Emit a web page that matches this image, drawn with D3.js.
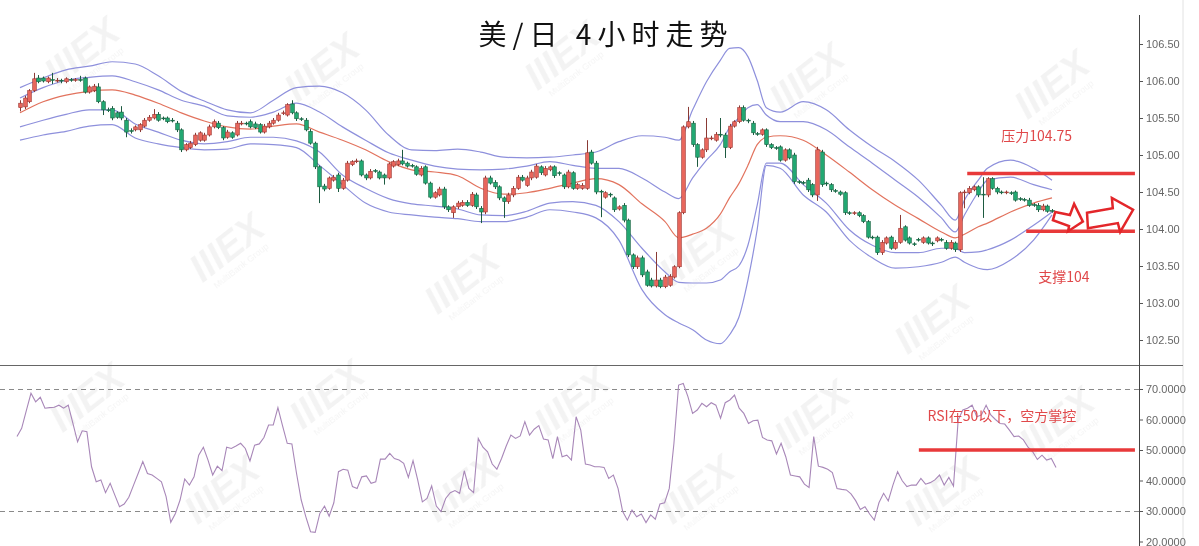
<!DOCTYPE html>
<html><head><meta charset="utf-8">
<script src="https://cdn.jsdelivr.net/npm/d3@7"></script>
<style>body{margin:0;background:#fff;}svg{display:block}</style>
</head><body>
<svg id="c" width="1199" height="546"></svg>
<script>
// ---------- DATA ----------
const opens=[105.64,105.65,105.72,105.87,106.04,106.04,105.99,106.02,106.00,106.01,
105.99,106.02,106.01,106.02,106.04,105.85,105.87,105.92,105.72,105.61,
105.63,105.57,105.58,105.47,105.33,105.34,105.34,105.39,105.47,105.50,
105.55,105.50,105.50,105.47,105.43,105.34,105.07,105.10,105.14,105.20,
105.20,105.27,105.38,105.43,105.37,105.24,105.30,105.27,105.42,105.43,
105.45,105.42,105.41,105.31,105.38,105.43,105.47,105.56,105.54,105.69,
105.57,105.49,105.47,105.32,105.16,104.84,104.58,104.55,104.66,104.73,
104.55,104.66,104.87,104.91,104.92,104.73,104.69,104.79,104.77,104.73,
104.69,104.85,104.87,104.92,104.89,104.86,104.84,104.73,104.84,104.62,
104.43,104.46,104.54,104.30,104.22,104.30,104.32,104.36,104.32,104.46,
104.28,104.23,104.69,104.63,104.57,104.42,104.37,104.46,104.55,104.70,
104.59,104.69,104.70,104.84,104.73,104.80,104.84,104.76,104.73,104.57,
104.76,104.55,104.55,104.55,105.04,104.89,104.51,104.43,104.47,104.42,
104.27,104.32,104.12,103.65,103.49,103.61,103.42,103.31,103.23,103.31,
103.22,103.24,103.35,103.49,104.22,105.38,105.43,105.14,104.97,105.07,
105.22,105.20,105.28,105.27,105.10,105.39,105.45,105.64,105.47,105.43,
105.29,105.28,105.34,105.14,105.10,105.11,104.93,105.07,105.00,104.64,
104.63,104.66,104.60,104.46,105.04,104.62,104.60,104.52,104.50,104.49,
104.22,104.21,104.22,104.18,104.10,103.89,103.89,103.68,103.81,103.89,
103.74,103.82,104.03,103.88,103.80,103.86,103.82,103.88,103.81,103.84,
103.86,103.82,103.74,103.81,103.72,104.49,104.49,104.53,104.57,104.47,
104.46,104.68,104.55,104.50,104.49,104.49,104.50,104.41,104.40,104.39,
104.33,104.32,104.26,104.31,104.25];
const highs=[105.74,105.80,105.89,106.11,106.08,106.06,106.06,106.11,106.04,106.03,
106.05,106.04,106.04,106.07,106.06,105.94,105.96,105.97,105.74,105.64,
105.66,105.59,105.66,105.50,105.36,105.40,105.43,105.50,105.54,105.62,
105.58,105.52,105.52,105.50,105.46,105.36,105.16,105.19,105.30,105.32,
105.30,105.41,105.48,105.46,105.39,105.34,105.32,105.46,105.46,105.45,
105.48,105.45,105.43,105.42,105.46,105.50,105.57,105.60,105.70,105.74,
105.59,105.51,105.50,105.35,105.18,104.86,104.61,104.71,104.73,104.76,
104.69,104.92,104.93,104.95,104.94,104.75,104.81,104.81,104.79,104.75,
104.90,104.93,104.95,105.07,104.91,104.88,104.86,104.85,104.86,104.64,
104.51,104.57,104.57,104.32,104.32,104.38,104.39,104.39,104.50,104.49,
104.31,104.72,104.72,104.66,104.59,104.44,104.49,104.58,104.73,104.73,
104.72,104.80,104.88,104.86,104.85,104.86,104.86,104.78,104.75,104.80,
104.78,104.62,104.62,105.20,105.07,104.92,104.53,104.51,104.49,104.44,
104.32,104.35,104.14,103.67,103.64,103.64,103.45,103.34,103.69,103.34,
103.38,103.39,103.51,104.24,105.40,105.65,105.46,105.16,105.09,105.50,
105.26,105.31,105.50,105.30,105.42,105.47,105.67,105.67,105.49,105.46,
105.31,105.36,105.36,105.16,105.12,105.13,105.09,105.09,105.03,104.66,
104.65,104.69,104.62,105.11,105.07,104.64,104.62,104.54,104.52,104.51,
104.24,104.24,104.24,104.20,104.12,103.91,103.91,103.85,103.90,103.91,
103.85,104.19,104.05,103.90,103.82,103.88,103.90,103.90,103.83,103.90,
103.88,103.85,103.85,103.83,104.51,104.53,104.58,104.59,104.59,104.70,
104.70,104.70,104.57,104.52,104.52,104.51,104.52,104.43,104.42,104.42,
104.35,104.35,104.34,104.33,104.27];
const lows=[105.59,105.62,105.70,105.85,105.97,105.98,105.97,105.96,105.98,105.97,
105.97,105.99,105.99,105.99,105.83,105.83,105.85,105.70,105.54,105.58,
105.47,105.49,105.47,105.24,105.29,105.32,105.31,105.37,105.45,105.48,
105.45,105.47,105.43,105.44,105.31,105.04,105.05,105.08,105.12,105.18,
105.18,105.25,105.36,105.35,105.20,105.22,105.22,105.25,105.40,105.40,
105.36,105.35,105.29,105.29,105.36,105.41,105.45,105.54,105.52,105.55,
105.46,105.46,105.32,105.14,104.81,104.35,104.51,104.53,104.64,104.50,
104.53,104.64,104.85,104.89,104.71,104.66,104.67,104.76,104.67,104.60,
104.67,104.83,104.85,104.86,104.83,104.83,104.72,104.71,104.60,104.41,
104.41,104.44,104.27,104.23,104.15,104.27,104.30,104.30,104.30,104.27,
104.08,104.20,104.60,104.54,104.39,104.15,104.34,104.43,104.53,104.64,
104.57,104.66,104.68,104.73,104.71,104.78,104.69,104.72,104.54,104.55,
104.53,104.53,104.53,104.53,104.87,104.47,104.16,104.41,104.43,104.23,
104.25,104.09,103.62,103.46,103.46,103.35,103.22,103.21,103.21,103.20,
103.20,103.22,103.33,103.47,104.20,105.36,105.11,104.84,104.95,105.04,
105.20,105.18,105.24,104.96,105.08,105.37,105.43,105.45,105.43,105.27,
105.26,105.26,105.11,105.08,105.07,104.91,104.91,104.94,104.61,104.61,
104.60,104.50,104.43,104.38,104.57,104.58,104.50,104.49,104.45,104.19,
104.19,104.19,104.16,104.08,103.87,103.86,103.65,103.65,103.79,103.72,
103.72,103.80,103.83,103.79,103.77,103.83,103.80,103.79,103.77,103.82,
103.83,103.72,103.72,103.69,103.69,104.28,104.47,104.51,104.43,104.15,
104.43,104.53,104.47,104.47,104.47,104.46,104.37,104.38,104.37,104.30,
104.30,104.23,104.24,104.22,104.22];
const closes=[105.70,105.77,105.87,106.03,105.99,106.00,106.04,106.01,106.01,106.00,
106.03,106.01,106.02,106.01,105.85,105.92,105.93,105.72,105.61,105.60,
105.50,105.51,105.50,105.31,105.32,105.38,105.41,105.47,105.51,105.55,
105.47,105.49,105.45,105.46,105.34,105.07,105.14,105.16,105.27,105.30,
105.27,105.38,105.45,105.37,105.23,105.31,105.24,105.43,105.43,105.42,
105.38,105.37,105.31,105.39,105.43,105.47,105.54,105.57,105.68,105.57,
105.49,105.48,105.34,105.16,104.84,104.57,104.54,104.69,104.70,104.55,
104.66,104.89,104.91,104.92,104.73,104.69,104.78,104.78,104.69,104.69,
104.88,104.91,104.92,104.88,104.85,104.85,104.74,104.82,104.62,104.43,
104.49,104.54,104.30,104.26,104.30,104.35,104.36,104.32,104.47,104.30,
104.23,104.69,104.62,104.57,104.42,104.37,104.46,104.55,104.70,104.66,
104.69,104.77,104.85,104.76,104.82,104.84,104.72,104.75,104.57,104.77,
104.55,104.60,104.59,105.03,104.89,104.50,104.50,104.49,104.46,104.26,
104.30,104.12,103.65,103.49,103.61,103.38,103.24,103.23,103.31,103.22,
103.35,103.36,103.49,104.22,105.38,105.45,105.14,104.97,105.07,105.23,
105.23,105.28,105.27,105.10,105.39,105.45,105.64,105.47,105.46,105.30,
105.28,105.34,105.14,105.10,105.09,104.93,105.07,104.96,104.64,104.63,
104.62,104.53,104.46,105.07,104.60,104.61,104.53,104.51,104.47,104.22,
104.21,104.22,104.18,104.10,103.89,103.88,103.68,103.82,103.88,103.74,
103.82,104.01,103.85,103.81,103.79,103.85,103.88,103.81,103.80,103.88,
103.85,103.74,103.82,103.72,104.49,104.50,104.55,104.57,104.46,104.46,
104.68,104.55,104.50,104.49,104.50,104.48,104.39,104.40,104.39,104.32,
104.32,104.26,104.31,104.24,104.24];

const bbIdx=[0,5,10,15,20,25,30,35,40,45,50,55,60,65,70,75,80,85,90,95,100,105,110,115,120,125,130,135,140,143,146,149,152,154,156,158,160,162,165,170,175,180,185,190,195,200,203,205,208,210,215,220,224];
const outerUpper=[105.91,106.04,106.15,106.20,106.26,106.23,106.07,105.86,105.73,105.61,105.57,105.74,105.91,105.93,105.84,105.61,105.27,105.07,105.06,105.08,105.04,104.97,104.96,104.97,105.00,105.04,105.18,105.26,105.24,105.20,105.61,105.99,106.28,106.44,106.45,106.33,106.01,105.64,105.58,105.72,105.61,105.34,105.11,104.91,104.66,104.32,104.12,104.39,104.66,104.82,104.93,104.82,104.66];
const innerUpper=[105.77,105.91,106.01,106.05,106.07,105.99,105.88,105.74,105.66,105.53,105.51,105.58,105.70,105.58,105.38,105.20,105.03,104.93,104.85,104.81,104.80,104.81,104.85,104.91,104.86,104.82,104.82,104.69,104.50,104.41,104.69,104.93,105.14,105.37,105.50,105.64,105.68,105.54,105.45,105.45,105.34,105.11,104.89,104.66,104.43,104.15,103.96,104.19,104.50,104.66,104.70,104.60,104.53];
const middleBand=[105.57,105.72,105.81,105.86,105.88,105.81,105.70,105.57,105.46,105.38,105.35,105.39,105.42,105.31,105.20,105.07,104.91,104.80,104.77,104.72,104.55,104.47,104.49,104.55,104.62,104.68,104.60,104.34,104.10,103.88,103.93,104.01,104.20,104.42,104.61,104.86,105.14,105.24,105.26,105.20,105.00,104.77,104.53,104.32,104.14,103.96,103.88,103.93,104.03,104.08,104.23,104.35,104.42];
const innerLower=[105.38,105.47,105.55,105.61,105.61,105.42,105.31,105.20,105.15,105.18,105.24,105.24,105.19,105.04,104.73,104.55,104.41,104.34,104.31,104.27,104.19,104.18,104.24,104.35,104.37,104.32,104.10,103.74,103.42,103.28,103.27,103.27,103.31,103.42,103.50,103.78,104.32,104.89,104.89,104.60,104.35,103.99,103.78,103.68,103.68,103.74,103.74,103.68,103.69,103.72,103.85,104.05,104.23];
const outerLower=[105.20,105.27,105.32,105.39,105.41,105.23,105.15,105.10,105.07,105.08,105.15,105.14,105.10,104.86,104.60,104.35,104.23,104.19,104.16,104.14,104.10,104.10,104.16,104.26,104.23,104.15,103.85,103.18,102.84,102.73,102.64,102.50,102.45,102.57,102.80,103.31,103.99,104.86,104.82,104.46,104.23,103.85,103.61,103.47,103.49,103.55,103.62,103.55,103.47,103.45,103.58,103.85,104.19];

const rsi=[54.4,57.1,62.9,68.6,65.8,67.3,63.7,63.9,64.0,64.7,
63.7,64.7,58.7,52.7,56.3,56.0,44.5,39.6,40.2,36.0,
39.1,35.2,31.4,32.3,34.5,38.4,42.3,46.2,42.3,41.8,
40.7,39.6,34.7,26.3,29.2,33.6,40.5,38.5,41.2,48.3,
50.9,46.7,41.8,44.7,43.2,50.9,50.5,51.3,52.2,50.5,
46.4,51.6,52.0,54.1,58.2,58.2,63.9,57.9,52.2,52.0,
42.3,33.6,28.1,23.2,23.0,29.2,31.6,28.3,32.7,42.9,
43.7,43.4,38.0,37.4,41.2,41.5,39.1,39.6,47.0,47.0,
48.9,47.2,46.7,45.6,41.0,46.5,40.2,33.0,34.1,38.2,
31.6,29.8,34.1,36.0,36.7,35.8,43.2,37.4,36.0,53.8,
50.9,49.4,45.4,43.7,47.2,51.3,54.9,53.8,54.6,59.3,
54.9,56.8,58.0,53.6,53.3,47.2,54.4,47.8,48.3,46.7,
60.9,56.5,45.4,45.1,44.5,
44.5,44.3,40.7,41.8,37.4,29.8,27.0,30.3,28.1,29.0,
26.2,28.7,27.3,32.3,32.7,37.4,52.2,71.3,71.8,67.5,
62.0,63.1,65.3,64.2,65.5,64.7,60.4,65.5,66.4,68.0,
63.7,62.0,58.7,59.6,59.8,54.1,53.3,53.0,48.7,52.2,
47.8,41.8,41.5,41.2,38.8,37.7,54.4,44.7,44.3,43.7,
42.6,37.4,37.1,36.9,35.6,33.4,30.5,31.4,29.0,27.0,
32.7,35.8,33.3,38.5,42.9,39.9,38.0,38.5,38.5,40.7,
38.8,39.3,40.2,41.8,38.5,41.0,38.2,59.8,63.1,63.7,
64.7,60.9,61.5,64.7,61.5,60.0,58.7,58.5,56.5,54.4,
54.6,53.3,50.9,49.4,46.9,48.3,46.7,47.2,44.3];

const priceTicks=[102.5,103,103.5,104,104.5,105,105.5,106,106.5];
const rsiTicks=[20,30,40,50,60,70];
const rsiGuides=[30,70];
const titleText="美/日 4小时走势";
const resistanceLevel=104.75, resistanceSpan=[205.6,242];
const supportLevel=103.97, supportSpan=[218.4,242];
const rsiMarkLevel=50, rsiMarkSpan=[195.1,242];
const notes=[
  {text:"压力104.75", i:213, v:105.19, panel:"price"},
  {text:"支撑104", i:221, v:103.29, panel:"price"},
  {text:"RSI在50以下，空方掌控", i:197, v:59.4, panel:"rsi"}
];
// arrow outlines in (candle index, price) space
const arrowSmall=[[224.7,104.23],[227.9,104.19],[228.8,104.34],[230.7,104.10],[227.5,103.97],[227.7,104.04],[224.2,104.12]];
const arrowBig=[[231.6,104.22],[237.2,104.28],[237.0,104.42],[241.6,104.26],[238.8,103.96],[238.3,104.08],[231.8,104.01]];

// ---------- CHART ----------
const svg=d3.select('#c');
const axisX=1139;
const x=d3.scaleLinear().domain([0,opens.length-1]).range([20,1052]);
const y=d3.scaleLinear().domain([102.5,106.5]).range([340,44]);
const xr=d3.scaleLinear().domain([0,rsi.length-1]).range([17,1056]);
const yr=d3.scaleLinear().domain([30,70]).range([511,389]);

const defs=svg.append('defs');
defs.append('clipPath').attr('id','cp').append('rect').attr('x',0).attr('y',15).attr('width',axisX).attr('height',350);
defs.append('clipPath').attr('id','cr').append('rect').attr('x',0).attr('y',366).attr('width',axisX).attr('height',180);

// watermarks
const wm=[[90,62],[330,78],[570,66],[815,88],[1060,95],[235,258],[470,290],[705,262],[940,330],[95,408],[335,405],[580,412],[820,425],[1065,432],[230,500],[470,498],[705,500],[950,502]];
const wg=svg.append('g').attr('opacity',0.05);
wm.forEach(([cx,cy])=>{
  const g=wg.append('g').attr('transform',`translate(${cx},${cy}) rotate(-38)`);
  g.append('text').attr('text-anchor','middle').attr('font-family','Liberation Sans, Arial').attr('font-weight','bold').attr('font-style','italic').attr('font-size',38).attr('fill','#000').text('IIIEX');
  g.append('text').attr('text-anchor','middle').attr('y',13).attr('font-family','Liberation Sans, Arial').attr('font-size',9).attr('fill','#000').text('MultiBank Group');
});

// frame lines
svg.append('line').attr('x1',1183).attr('x2',1183).attr('y1',0).attr('y2',546).attr('stroke','#e2e2e2');
svg.append('line').attr('x1',0).attr('x2',1183).attr('y1',365.5).attr('y2',365.5).attr('stroke','#666');

// RSI guides
svg.append('g').selectAll('line').data(rsiGuides).join('line')
  .attr('x1',0).attr('x2',axisX).attr('y1',d=>Math.round(yr(d))+0.5).attr('y2',d=>Math.round(yr(d))+0.5)
  .attr('stroke','#8a8a8a').attr('stroke-dasharray','5,4');

// bands
const pg=svg.append('g').attr('clip-path','url(#cp)');
const bandLine=arr=>d3.line().x((d,k)=>x(bbIdx[k])).y(d=>y(d)).curve(d3.curveMonotoneX)(arr);
[outerUpper,innerUpper,innerLower,outerLower].forEach(a=>{
  pg.append('path').attr('d',bandLine(a)).attr('fill','none').attr('stroke','#8e90dc').attr('stroke-width',1.2);
});
pg.append('path').attr('d',bandLine(middleBand)).attr('fill','none').attr('stroke','#e2735e').attr('stroke-width',1.2);

// candles
const idx=d3.range(opens.length);
const bw=3.6;
pg.append('g').selectAll('line').data(idx).join('line')
  .attr('x1',i=>Math.round(x(i))+0.5).attr('x2',i=>Math.round(x(i))+0.5)
  .attr('y1',i=>y(highs[i])).attr('y2',i=>y(lows[i]))
  .attr('stroke',i=>closes[i]>opens[i]?'#8a3a35':(closes[i]<opens[i]?'#1d5a40':'#333')).attr('stroke-width',1);
pg.append('g').selectAll('rect').data(idx).join('rect')
  .attr('x',i=>Math.round(x(i))+0.5-bw/2).attr('width',bw)
  .attr('y',i=>Math.min(y(opens[i]),y(closes[i])))
  .attr('height',i=>Math.max(0.8,Math.abs(y(opens[i])-y(closes[i]))))
  .attr('fill',i=>closes[i]>=opens[i]?'#e8665c':'#22a872')
  .attr('stroke',i=>closes[i]>=opens[i]?'#9b3530':'#17603f').attr('stroke-width',0.6);

// RSI
const rg=svg.append('g').attr('clip-path','url(#cr)');
rg.append('path').attr('d',d3.line().x((d,k)=>xr(k)).y(d=>yr(d))(rsi))
  .attr('fill','none').attr('stroke','#a887b8').attr('stroke-width',1.1);

// axes
const ax=svg.append('g').attr('transform',`translate(${axisX},0)`)
  .call(d3.axisRight(y).tickValues(priceTicks).tickFormat(d3.format('.2f')).tickSize(4).tickPadding(3));
const ax2=svg.append('g').attr('transform',`translate(${axisX},0)`)
  .call(d3.axisRight(yr).tickValues(rsiTicks).tickFormat(d3.format('.4f')).tickSize(4).tickPadding(3));
[ax,ax2].forEach(a=>{
  a.select('.domain').remove();
  a.selectAll('line').attr('stroke','#555');
  a.selectAll('text').attr('fill','#666').attr('font-size',11).attr('font-family','Liberation Sans, Arial');
});
svg.append('line').attr('x1',axisX+0.5).attr('x2',axisX+0.5).attr('y1',15).attr('y2',546).attr('stroke','#444');

// title
svg.append('text').attr('x',606).attr('y',45).attr('text-anchor','middle')
  .attr('font-family','Noto Sans CJK SC').attr('font-size',28).attr('letter-spacing',6).attr('fill','#111').text(titleText);

// annotations
const red='#e8393a';
svg.append('line').attr('x1',x(resistanceSpan[0])).attr('x2',x(resistanceSpan[1])).attr('y1',y(resistanceLevel)).attr('y2',y(resistanceLevel)).attr('stroke',red).attr('stroke-width',3.5);
svg.append('line').attr('x1',x(supportSpan[0])).attr('x2',x(supportSpan[1])).attr('y1',y(supportLevel)).attr('y2',y(supportLevel)).attr('stroke',red).attr('stroke-width',3.5);
svg.append('line').attr('x1',x(rsiMarkSpan[0])).attr('x2',x(rsiMarkSpan[1])).attr('y1',yr(rsiMarkLevel)).attr('y2',yr(rsiMarkLevel)).attr('stroke',red).attr('stroke-width',3.5);
notes.forEach(n=>{
  svg.append('text').attr('x',x(n.i)).attr('y',n.panel==='rsi'?yr(n.v):y(n.v))
    .attr('font-family','Noto Sans CJK SC').attr('font-size',14).attr('fill','#e0484a').text(n.text);
});
[arrowSmall,arrowBig].forEach(a=>{
  svg.append('polygon').attr('points',a.map(p=>[x(p[0]),y(p[1])].join(',')).join(' '))
    .attr('fill','#fff').attr('stroke','#e3262a').attr('stroke-width',2.5).attr('stroke-linejoin','miter');
});
</script>
</body></html>
